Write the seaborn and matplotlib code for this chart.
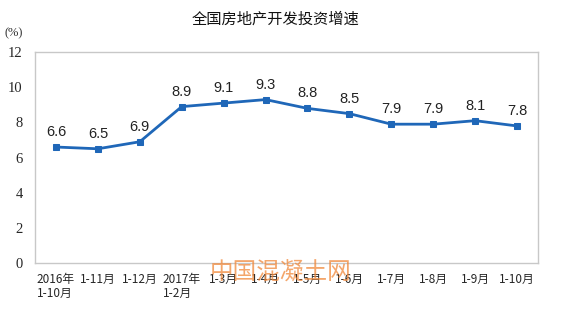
import matplotlib
matplotlib.use("Agg")
import matplotlib.pyplot as plt
import seaborn as sns
import pandas as pd

# data
labels = ["2016年\n1-10月", "1-11月", "1-12月", "2017年\n1-2月", "1-3月", "1-4月",
          "1-5月", "1-6月", "1-7月", "1-8月", "1-9月", "1-10月"]
growth = [6.6, 6.5, 6.9, 8.9, 9.1, 9.3, 8.8, 8.5, 7.9, 7.9, 8.1, 7.8]
yticks = [0, 2, 4, 6, 8, 10, 12]

df = pd.DataFrame({"pos": range(len(labels)), "growth": growth})

sns.set_style("white")
plt.rcParams['font.family'] = ['Noto Sans CJK SC', 'DejaVu Sans']

fig = plt.figure(figsize=(5.62, 3.18), dpi=100)
ax = fig.add_axes([0.0623, 0.173, 0.895, 0.663])

blue = "#1F67B8"
sns.lineplot(data=df, x="pos", y="growth", ax=ax, color=blue, linewidth=2,
             marker="s", markersize=5, markeredgecolor=blue, markerfacecolor=blue)

for x, v in zip(df["pos"], growth):
    ax.text(x, v + 0.45, "%.1f" % v, ha="center", va="bottom", fontsize=10.5,
            color="#222222", family=["Liberation Sans", "DejaVu Sans"])

ax.set_xlim(-0.5, len(labels) - 0.5)
ax.set_ylim(0, 12)
ax.set_yticks(yticks)
ax.set_yticklabels([str(t) for t in yticks], family=["Liberation Serif"], fontsize=10.5)
ax.set_xticks(range(len(labels)))
ax.set_xticklabels(labels, fontsize=8.5, ha="center", multialignment="left",
                   linespacing=1.1)
ax.tick_params(axis="x", length=0, pad=7)
ax.tick_params(axis="y", direction="in", length=3, color="#c8c8c8", pad=9)
# minor ticks between categories
ax.set_xticks([i + 0.5 for i in range(len(labels) - 1)], minor=True)
ax.tick_params(axis="x", which="minor", direction="in", length=3, color="#bbbbbb")
ax.set_xlabel("")
ax.set_ylabel("")
for s in ax.spines.values():
    s.set_color("#c8c8c8")
    s.set_linewidth(1)

fig.text(0.49, 0.94, "全国房地产开发投资增速", ha="center", va="center", fontsize=11,
         color="#111111")
fig.text(0.008, 0.895, "(%)", ha="left", va="center", fontsize=9,
         family=["Liberation Serif"], color="#333333")
fig.text(0.50, 0.142, "中国混凝土网", ha="center", va="center", fontsize=17,
         color="#F0883A", alpha=0.75)

fig.savefig("out.png", dpi=100)
